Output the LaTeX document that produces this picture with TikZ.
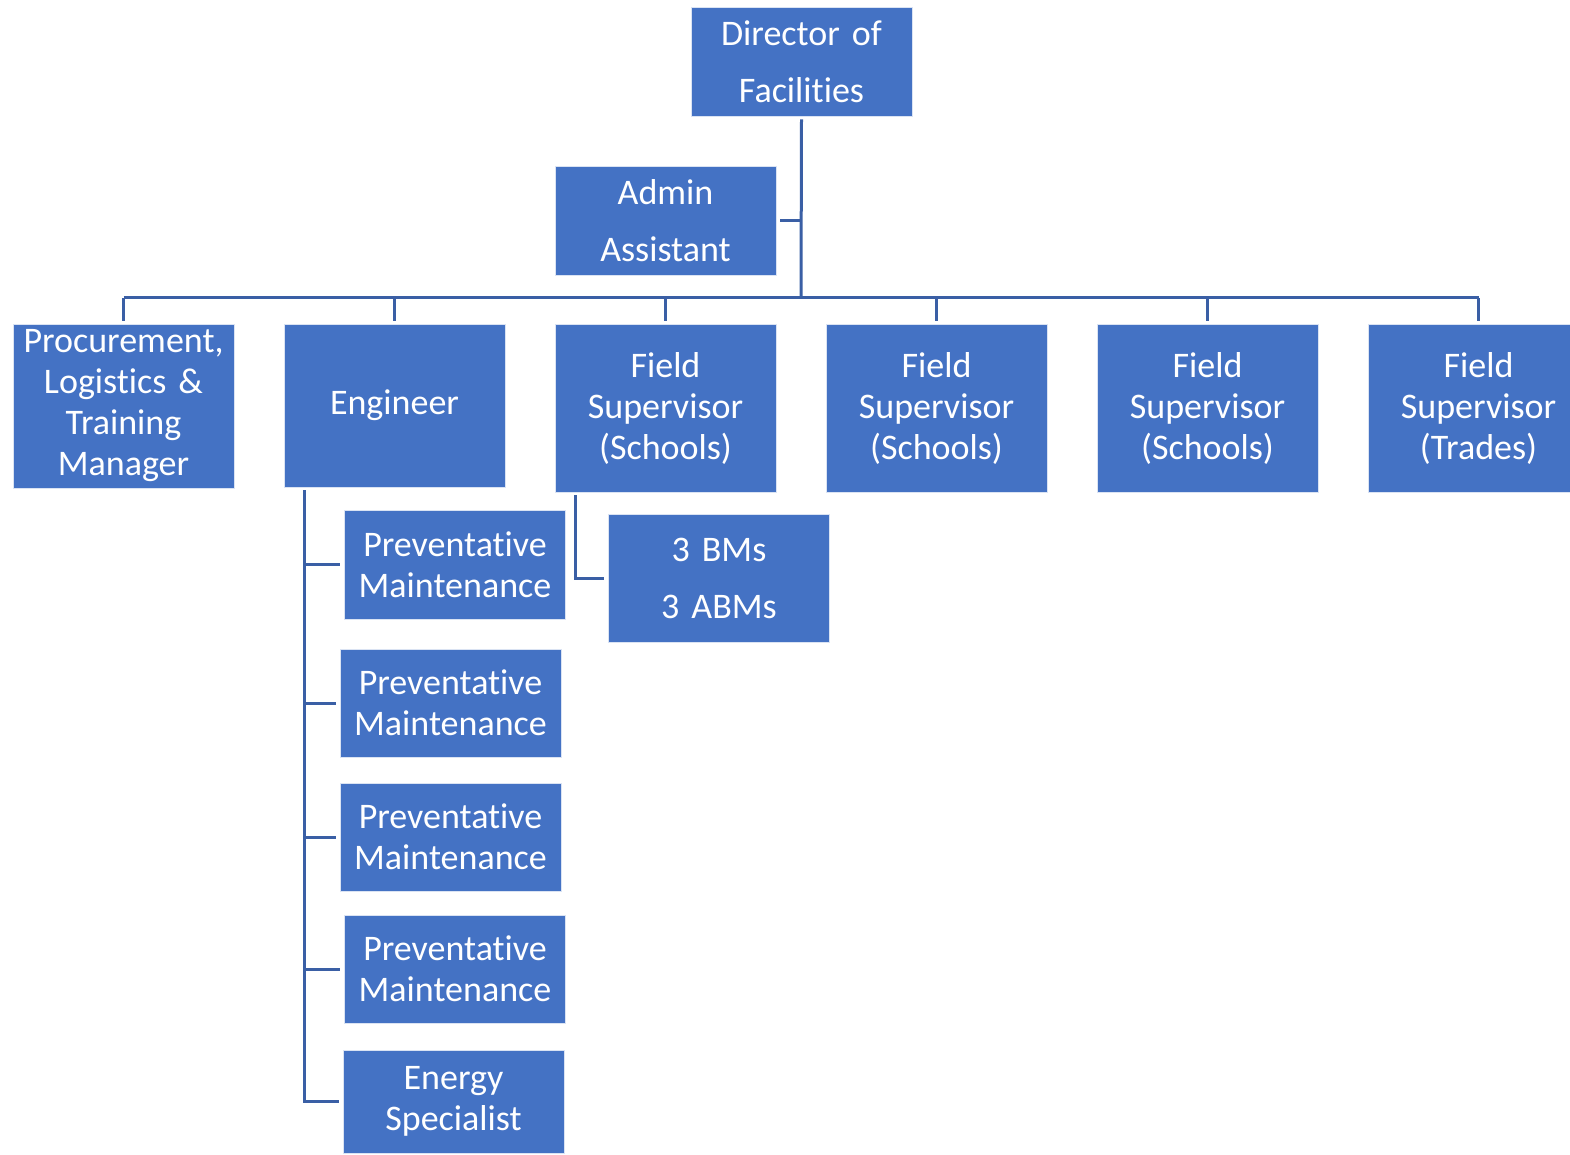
\documentclass[tikz,border=0pt]{standalone}
\usepackage{fontspec}
\setmainfont{Carlito}
\newcommand{\nl}{\kern0pt }
\definecolor{boxblue}{HTML}{4472C4}
\definecolor{linkblue}{HTML}{3A5FA5}
\begin{document}
\begin{tikzpicture}[x=0.5pt,y=-0.5pt,
  orgbox/.style={rectangle, fill=boxblue, draw=white!80!boxblue, line width=0.4pt,
    text=white, align=center, inner sep=0pt, text width=108pt,
    minimum width=110.5pt, font=\fontsize{18}{20.5}\selectfont},
  widebox/.style={orgbox, font=\fontsize{18}{28.5}\selectfont},
  link/.style={draw=linkblue, line width=1.5pt}]
\useasboundingbox (0,0) rectangle (1570,1155);
% top
\node[widebox, minimum height=54.5pt] (dir) at (801.5,61.5) {Director of\\Facilit\nl ies};
\node[widebox, minimum height=54.5pt] (admin) at (665.5,220.5) {Admin\\Assistant};
% row
\node[orgbox, minimum height=82pt] (proc) at (123.5,406) {Procurement,\\Logist\nl ics \&\\Training\\Manager};
\node[orgbox, minimum height=81.5pt] (eng) at (394.5,405.5) {Engineer};
\node[orgbox, minimum height=84pt] (fs1) at (665.5,408) {Field\\Supervisor\\(Schools)};
\node[orgbox, minimum height=84pt] (fs2) at (936.5,408) {Field\\Supervisor\\(Schools)};
\node[orgbox, minimum height=84pt] (fs3) at (1207.5,408) {Field\\Supervisor\\(Schools)};
\node[orgbox, minimum height=84pt] (fs4) at (1478.5,408) {Field\\Supervisor\\(Trades)};
% engineer children
\node[orgbox, minimum height=54.5pt] (pm1) at (455,564.5) {Preventat\nl ive\\Maintenance};
\node[orgbox, minimum height=54pt] (pm2) at (450.5,703) {Preventat\nl ive\\Maintenance};
\node[orgbox, minimum height=54pt] (pm3) at (450.5,837) {Preventat\nl ive\\Maintenance};
\node[orgbox, minimum height=54pt] (pm4) at (455,969) {Preventat\nl ive\\Maintenance};
\node[orgbox, minimum height=51.5pt] (energy) at (453.5,1101.5) {Energy\\Specialist};
% field supervisor child
\node[widebox, minimum height=64pt] (bms) at (719,578) {3 BMs\\3 ABMs};
% connectors
\coordinate (bus) at (801,298);
\draw[link] ([yshift=-1.5pt]dir.south) -- (bus);
\draw[link] ([xshift=2pt]admin.east) -- (admin.east -| bus);
\draw[link] (proc.north |- bus) -- (fs4.north |- bus);
\foreach \n in {proc,eng,fs1,fs2,fs3,fs4}
  \draw[link] (\n.north |- bus) -- ([yshift=1.5pt]\n.north);
\coordinate (ev) at ([xshift=10.5pt,yshift=-1.5pt]eng.south west);
\draw[link] (ev) -- (ev |- energy.west) -- ([xshift=-2pt]energy.west);
\foreach \n in {pm1,pm2,pm3,pm4}
  \draw[link] (ev |- \n.west) -- ([xshift=-2pt]\n.west);
\coordinate (fv) at ([xshift=10.5pt,yshift=-1.5pt]fs1.south west);
\draw[link] (fv) -- (fv |- bms.west) -- ([xshift=-2pt]bms.west);
\end{tikzpicture}
\end{document}
